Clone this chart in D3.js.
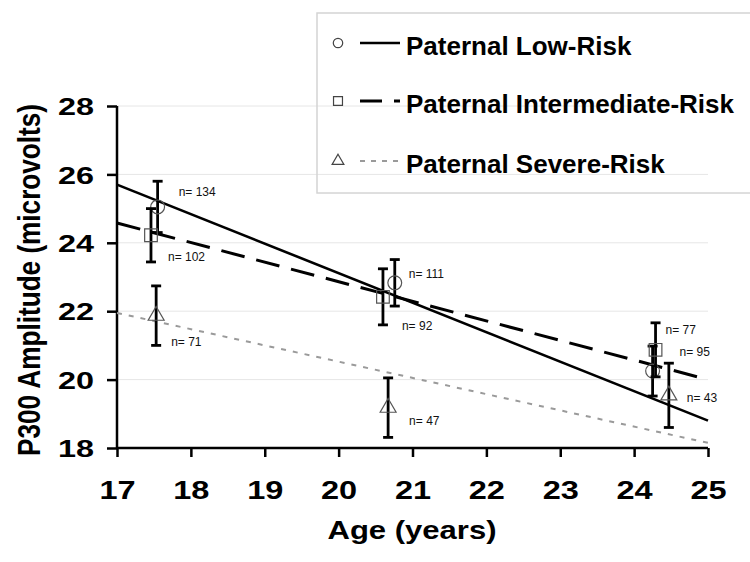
<!DOCTYPE html>
<html><head><meta charset="utf-8">
<script src="https://cdn.jsdelivr.net/npm/d3@7"></script>
<style>body{margin:0;background:#fff}svg{display:block}text{font-family:"Liberation Sans",Arial,sans-serif}</style>
</head><body><svg id="c" width="750" height="562"></svg>
<script>
const seriesNames = ["Paternal Low-Risk", "Paternal Intermediate-Risk", "Paternal Severe-Risk"];
const xTicks = [17, 18, 19, 20, 21, 22, 23, 24, 25];
const yTicks = [18, 20, 22, 24, 26, 28];
// observed points per series
const lowAge = [17.55, 20.76, 24.25], lowMean = [25.05, 22.83, 20.25], lowErr = [0.75, 0.68, 0.73], lowN = [134, 111, 95];
const intAge = [17.46, 20.60, 24.29], intMean = [24.22, 22.42, 20.87], intErr = [0.78, 0.82, 0.79], intN = [102, 92, 77];
const sevAge = [17.53, 20.67, 24.47], sevMean = [21.87, 19.18, 19.54], sevErr = [0.87, 0.87, 0.94], sevN = [71, 47, 43];
// regression line end values at age 17 and 25
const fitAges = [17, 25];
const lowFit = [25.7, 18.8];
const intFit = [24.58, 20.0];
const sevFit = [21.95, 18.15];

// layout (pixel offsets for n-labels)
const labelOff = [
  [[21,-15],[14,-9],[27,-19]],
  [[17,22],[19,29],[10,-20]],
  [[15,26],[21,13],[18,2]]
];

const svg = d3.select("#c");
const x = d3.scaleLinear().domain([17, 25]).range([117, 708]);
const y = d3.scaleLinear().domain([18, 28]).range([448, 106]);

const series = [
  {name: seriesNames[0], age: lowAge, mean: lowMean, err: lowErr, n: lowN, fit: lowFit, sym: "circle",
   stroke: "#000", width: 2.6, dash: null},
  {name: seriesNames[1], age: intAge, mean: intMean, err: intErr, n: intN, fit: intFit, sym: "square",
   stroke: "#000", width: 3, dash: "24,12"},
  {name: seriesNames[2], age: sevAge, mean: sevMean, err: sevErr, n: sevN, fit: sevFit, sym: "triangle",
   stroke: "#9a9a9a", width: 2, dash: "5,7"}
];

function stretch(sel, k) {
  sel.each(function() {
    const w = this.getComputedTextLength();
    d3.select(this).attr("textLength", w * k).attr("lengthAdjust", "spacingAndGlyphs");
  });
}

// gridlines
svg.append("g").selectAll("line").data(yTicks.slice(1)).join("line")
  .attr("x1", x(17)).attr("x2", x(25))
  .attr("y1", d => y(d)).attr("y2", d => y(d))
  .attr("stroke", "#e6e6e6").attr("stroke-width", 1);

// axes
const xAxis = d3.axisBottom(x).tickValues(xTicks).tickSize(9).tickFormat(d3.format("d"));
const gx = svg.append("g").attr("transform", `translate(0,${y(18)})`).call(xAxis);
gx.select(".domain").attr("stroke", "#000").attr("stroke-width", 2.5).attr("d", `M${x(17)},0H${x(25)}`);
gx.selectAll(".tick line").attr("stroke", "#000").attr("stroke-width", 2.5);
gx.selectAll(".tick text").attr("font-size", 25).attr("font-weight", "bold").attr("fill", "#000")
  .attr("font-family", "Liberation Sans, Arial, sans-serif").attr("dy", "0").attr("y", 51)
  .call(stretch, 1.3);

const yAxis = d3.axisLeft(y).tickValues(yTicks).tickSize(10).tickFormat(d3.format("d"));
const gy = svg.append("g").attr("transform", `translate(${x(17)},0)`).call(yAxis);
gy.select(".domain").attr("stroke", "#000").attr("stroke-width", 2.5).attr("d", `M0,${y(28)}V${y(18)}`);
gy.selectAll(".tick line").attr("stroke", "#000").attr("stroke-width", 2.5);
gy.selectAll(".tick text").attr("font-size", 24).attr("font-weight", "bold").attr("fill", "#000")
  .attr("font-family", "Liberation Sans, Arial, sans-serif").attr("x", -23).attr("dy", "0.36em")
  .call(stretch, 1.35);

// axis titles
svg.append("text").attr("x", 412).attr("y", 539).attr("text-anchor", "middle")
  .attr("font-size", 26).attr("font-weight", "bold").text("Age (years)")
  .attr("textLength", 169).attr("lengthAdjust", "spacingAndGlyphs");
svg.append("text").attr("transform", `translate(40,280) scale(1.2,1) rotate(-90)`).attr("text-anchor", "middle")
  .attr("font-size", 26).attr("font-weight", "bold").text("P300 Amplitude (microvolts)")
  .attr("textLength", 352).attr("lengthAdjust", "spacingAndGlyphs");

// regression lines
const line = d3.line().x(d => x(d[0])).y(d => y(d[1]));
series.forEach(s => {
  svg.append("path").attr("d", line(fitAges.map((a, i) => [a, s.fit[i]])))
    .attr("fill", "none").attr("stroke", s.stroke).attr("stroke-width", s.width)
    .attr("stroke-dasharray", s.dash);
});

function symPath(sym, size) {
  const t = {circle: d3.symbolCircle, square: d3.symbolSquare, triangle: d3.symbolTriangle}[sym];
  return d3.symbol().type(t).size(size)();
}

// error bars and markers
series.forEach((s, si) => {
  const g = svg.append("g");
  s.age.forEach((a, i) => {
    const cx = x(a), top = y(s.mean[i] + s.err[i]), bot = y(s.mean[i] - s.err[i]);
    g.append("line").attr("x1", cx).attr("x2", cx).attr("y1", top).attr("y2", bot)
      .attr("stroke", "#000").attr("stroke-width", 2.8);
    [top, bot].forEach(v => g.append("line").attr("x1", cx - 5).attr("x2", cx + 5).attr("y1", v).attr("y2", v)
      .attr("stroke", "#000").attr("stroke-width", 2.8));
    const size = s.sym === "circle" ? 150 : s.sym === "square" ? 160 : 110;
    g.append("path").attr("d", symPath(s.sym, size))
      .attr("transform", `translate(${cx},${y(s.mean[i])})`)
      .attr("fill", "none").attr("stroke", "#555").attr("stroke-width", 1.2);
    const o = labelOff[si][i];
    g.append("text").attr("x", cx + o[0]).attr("y", y(s.mean[i]) + o[1]).attr("dy", "0.35em")
      .attr("font-size", 12).attr("fill", "#111").text("n= " + s.n[i]);
  });
});

// legend
const lg = svg.append("g");
lg.append("rect").attr("x", 317).attr("y", 13).attr("width", 450).attr("height", 180)
  .attr("fill", "none").attr("stroke", "#d4d4d4").attr("stroke-width", 1.5);
const rowsY = [43, 101, 161];
series.forEach((s, i) => {
  const ry = rowsY[i];
  const size = s.sym === "circle" ? 70 : s.sym === "square" ? 80 : 60;
  lg.append("path").attr("d", symPath(s.sym, size)).attr("transform", `translate(338,${ry})`)
    .attr("fill", "none").attr("stroke", "#444").attr("stroke-width", 1.2);
  lg.append("path").attr("d", `M360,${ry}H400`).attr("fill", "none")
    .attr("stroke", s.stroke).attr("stroke-width", s.width)
    .attr("stroke-dasharray", s.sym === "square" ? "22,12" : s.sym === "triangle" ? "5,6" : null);
  lg.append("text").attr("x", 406).attr("y", ry + 12).attr("font-size", 26).attr("font-weight", "bold")
    .attr("fill", "#000").text(s.name);
});
</script></body></html>
